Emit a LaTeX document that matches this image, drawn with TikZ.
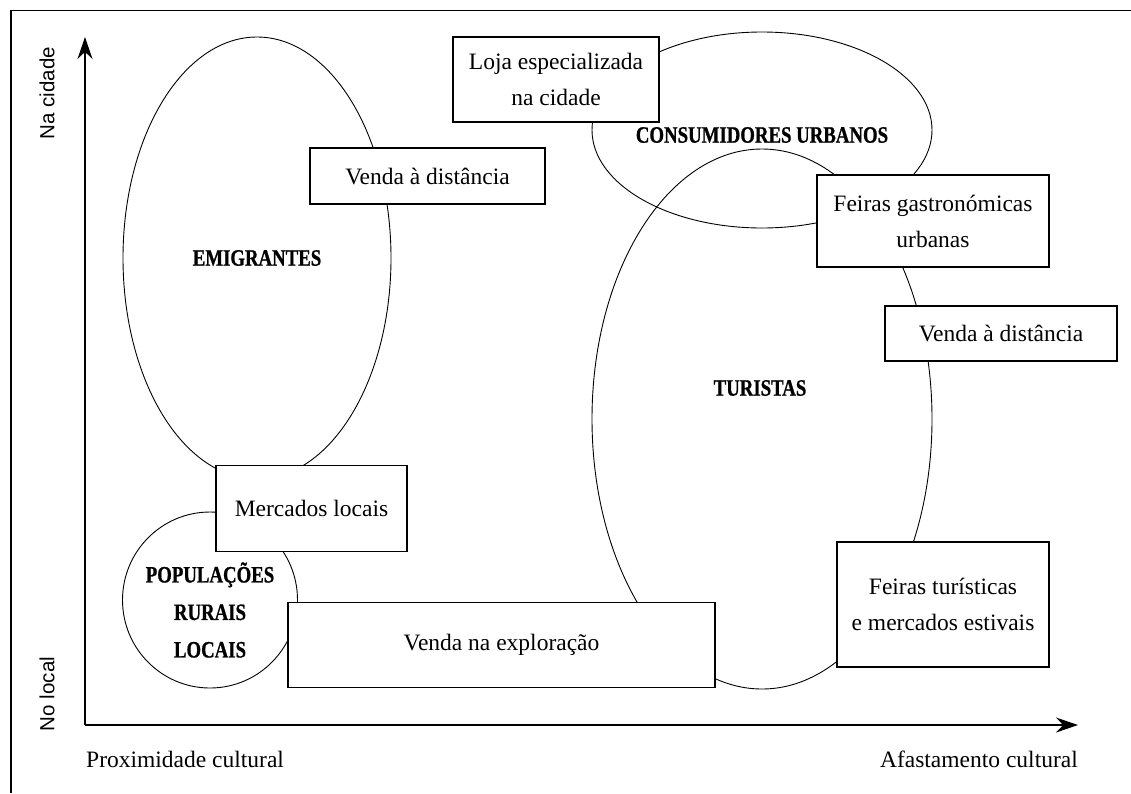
\documentclass[tikz,border=0pt]{standalone}
\usepackage{fontspec}
\setmainfont{Liberation Serif}
\newfontfamily\axisfont{Liberation Sans}
\newfontfamily\heavyfont[FakeStretch=0.8,FakeBold=0.8]{Liberation Serif}
\usetikzlibrary{arrows.meta,shapes.geometric}
\begin{document}
\begin{tikzpicture}[x=1pt,y=-1pt,
  boxnode/.style={draw,line width=1.3pt,fill=white,rectangle,inner sep=0pt,align=center,
    font=\fontsize{23.5}{36}\selectfont},
  grp/.style={draw,line width=0.9pt,ellipse,inner sep=0pt},
  grplabel/.style={font=\heavyfont\bfseries\fontsize{23.5}{37.5}\selectfont,align=center,inner sep=0pt},
  axis/.style={line width=1.6pt,-{Stealth[length=22pt,width=15pt]}},
  axislabel/.style={font=\axisfont\fontsize{20.5}{24}\selectfont,inner sep=0pt},
  sidelabel/.style={font=\fontsize{23.5}{26}\selectfont,inner sep=0pt}]
\useasboundingbox (0,0) rectangle (1131,793);
\draw[line width=1.3pt] (11,793) -- (11,10.5) -- (1131,10.5);
% groups
\node[grp,minimum width=268pt,minimum height=442pt] (emi) at (257,258) {};
\node[grp,minimum width=175pt,minimum height=176pt] (pop) at (210,600) {};
\node[grp,minimum width=340pt,minimum height=196pt] (cons) at (762,130) {};
\node[grp,minimum width=340pt,minimum height=540pt] (tur) at (762,419) {};
\node[grplabel] (emil) at (257,258) {EMIGRANTES};
\node[grplabel] (popl) at (210,610) {POPULAÇÕES\\RURAIS\\LOCAIS};
\node[grplabel] (consl) at (762,135) {CONSUMIDORES URBANOS};
\node[grplabel] (turl) at (760,388) {TURISTAS};
% boxes
\node[boxnode,minimum width=206pt,minimum height=85pt] (loja) at (556,79.5) {Loja especializada\\na cidade};
\node[boxnode,minimum width=235pt,minimum height=56pt] (vd1) at (427.5,176) {Venda à distância};
\node[boxnode,minimum width=232pt,minimum height=92pt] (fg) at (933,221) {Feiras gastronómicas\\urbanas};
\node[boxnode,minimum width=232pt,minimum height=55pt] (vd2) at (1001,333.5) {Venda à distância};
\node[boxnode,minimum width=191pt,minimum height=86pt] (ml) at (311.5,508.5) {Mercados locais};
\node[boxnode,minimum width=427pt,minimum height=85pt] (ve) at (501.5,645) {Venda na exploração};
\node[boxnode,minimum width=212pt,minimum height=125pt] (ft) at (943,604.5) {Feiras turísticas\\e mercados estivais};
% axes
\coordinate (o) at (85,725);
\coordinate (ytip) at (85,37);
\coordinate (xtip) at (1078,725);
\draw[axis] (o) -- (ytip);
\draw[axis] (o) -- (xtip);
\node[axislabel,rotate=90] (nac) at (47,93) {Na cidade};
\node[axislabel,rotate=90] (nol) at (47,694) {No local};
\node[sidelabel,anchor=base west] (prox) at (86,767) {Proximidade cultural};
\node[sidelabel,anchor=base east] (afas) at (1078,767) {Afastamento cultural};
\end{tikzpicture}
\end{document}
